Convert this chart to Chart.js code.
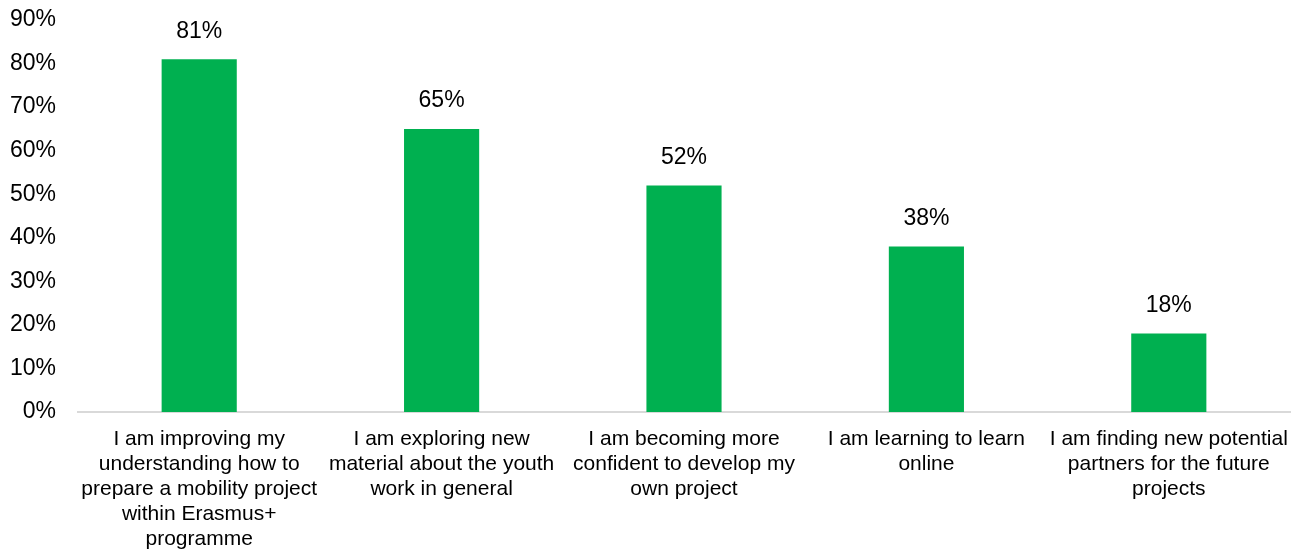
<!DOCTYPE html>
<html>
<head>
<meta charset="utf-8">
<script src="https://cdn.jsdelivr.net/npm/chart.js@4"></script>
<style>
  html, body { margin: 0; padding: 0; background: #fff; }
  #wrap { width: 1305px; height: 551px; }
</style>
</head>
<body>
<div id="wrap"><canvas id="barras"></canvas></div>
<script>
const categorias = [
  ["I am improving my", "understanding how to", "prepare a mobility project", "within Erasmus+", "programme"],
  ["I am exploring new", "material about the youth", "work in general"],
  ["I am becoming more", "confident to develop my", "own project"],
  ["I am learning to learn", "online"],
  ["I am finding new potential", "partners for the future", "projects"],
];
const valores = [81, 65, 52, 38, 18];
const ticksY = [0, 10, 20, 30, 40, 50, 60, 70, 80, 90];

// rotulos em cima das barras
const rotulos = {
  id: "rotulos",
  afterDatasetsDraw(chart) {
    const ctx = chart.ctx;
    const meta = chart.getDatasetMeta(0);
    ctx.save();
    ctx.font = "23px 'Liberation Sans', Arial, sans-serif";
    ctx.fillStyle = "#000";
    ctx.textAlign = "center";
    ctx.textBaseline = "middle";
    meta.data.forEach((bar, i) => {
      ctx.fillText(valores[i] + "%", bar.x, bar.y - 28);
    });
    ctx.restore();
  },
};

new Chart(document.getElementById("barras"), {
  type: "bar",
  data: {
    labels: categorias,
    datasets: [
      {
        data: valores,
        backgroundColor: "#00B050",
        borderWidth: 0,
        categoryPercentage: 1,
        barPercentage: 0.31,
      },
    ],
  },
  options: {
    responsive: true,
    maintainAspectRatio: false,
    animation: false,
    layout: { padding: { top: 20, right: 15, left: 0, bottom: 0 } },
    plugins: {
      legend: { display: false },
      tooltip: { enabled: false },
    },
    scales: {
      y: {
        min: 0,
        max: 90,
        afterBuildTicks(axis) {
          axis.ticks = ticksY.map((v) => ({ value: v }));
        },
        afterFit(axis) {
          axis.width = 78;
          axis.paddingTop = 0;
          axis.paddingBottom = 0;
        },
        grid: { display: false },
        border: { display: false },
        ticks: {
          padding: 14,
          color: "#000",
          font: { size: 23, family: "'Liberation Sans', Arial, sans-serif" },
          callback: (v) => v + "%",
        },
      },
      x: {
        afterFit(axis) {
          axis.height = 139;
        },
        grid: { display: false },
        border: { display: true, color: "#d9d9d9", width: 2 },
        ticks: {
          padding: 7,
          maxRotation: 0,
          autoSkip: false,
          color: "#000",
          font: { size: 21, family: "'Liberation Sans', Arial, sans-serif", lineHeight: 1.19 },
        },
      },
    },
  },
  plugins: [rotulos],
});
</script>
</body>
</html>
